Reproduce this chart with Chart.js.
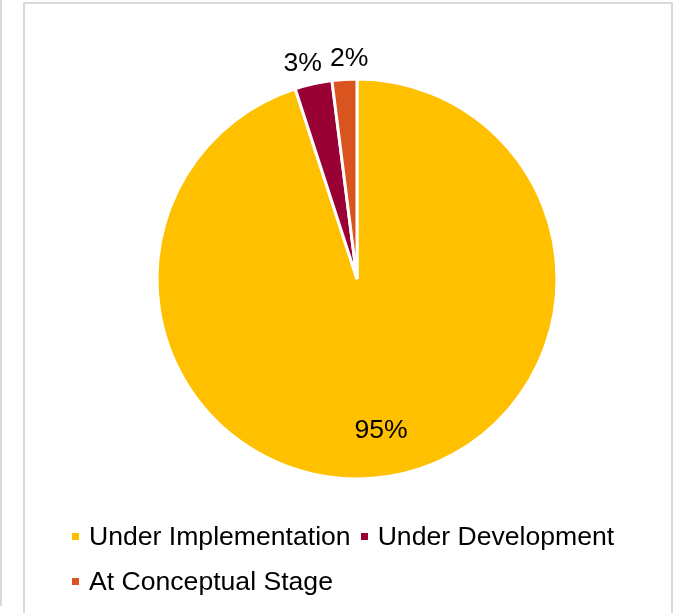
<!DOCTYPE html>
<html>
<head>
<meta charset="utf-8">
<script src="https://cdn.jsdelivr.net/npm/chart.js@4/dist/chart.umd.min.js"></script>
<style>
  html, body { margin: 0; padding: 0; background: #fff; overflow: hidden; }
  body { width: 678px; height: 613px; position: relative; font-family: "Liberation Sans", Arial, sans-serif; }
  #prevBox { position: absolute; left: -60px; top: -10px; width: 60px; height: 614px;
             border-right: 2px solid #d9d9d9; border-bottom: 2px solid #d9d9d9; }
  #frame { position: absolute; left: 23px; top: 2px; width: 646px; height: 700px;
           border: 2px solid #d9d9d9; }
  #wrap { position: absolute; left: 0; top: 0; width: 678px; height: 613px; }
  #legend { position: absolute; left: 72px; top: 514px; width: 580px;
            display: flex; flex-wrap: wrap; font-size: 26.6px; color: #000; }
  #legend .item { display: flex; align-items: center; height: 45px; margin-right: 10px; }
  #legend .box { width: 7px; height: 7px; margin-right: 10px; }
</style>
</head>
<body>
<div id="prevBox"></div>
<div id="frame"></div>
<div id="wrap"><canvas id="pieChart"></canvas></div>
<div id="legend"></div>
<script>
// data
const categories = ['Under Implementation', 'Under Development', 'At Conceptual Stage'];
const shares = [95, 3, 2];
const colors = ['#FFC000', '#990033', '#D9541E'];

// percentage labels on the slices
const sliceLabels = {
  id: 'sliceLabels',
  afterDatasetsDraw(chart) {
    const ctx = chart.ctx;
    const meta = chart.getDatasetMeta(0);
    const data = chart.data.datasets[0].data;
    const total = data.reduce((a, b) => a + b, 0);
    ctx.save();
    ctx.font = '26.6px "Liberation Sans", Arial, sans-serif';
    ctx.fillStyle = '#000';
    ctx.textAlign = 'center';
    ctx.textBaseline = 'middle';
    const outside = [];
    const pos = meta.data.map((arc, i) => {
      const p = arc.getProps(['x', 'y', 'startAngle', 'endAngle', 'outerRadius'], true);
      const mid = (p.startAngle + p.endAngle) / 2;
      const pct = data[i] / total * 100;
      const dist = pct >= 10 ? p.outerRadius * 0.77 : p.outerRadius + 21;
      const t = Math.round(pct) + '%';
      const lab = { t, x: p.x + Math.cos(mid) * dist, y: p.y + Math.sin(mid) * dist, w: ctx.measureText(t).width };
      if (pct < 10) outside.push(lab);
      return lab;
    });
    // push overlapping outside labels apart
    outside.sort((a, b) => a.x - b.x);
    for (let k = 1; k < outside.length; k++) {
      const a = outside[k - 1], b = outside[k];
      const need = (a.w + b.w) / 2 + 8 - (b.x - a.x);
      if (need > 0) { a.x -= need / 2; b.x += need / 2; }
    }
    pos.forEach(l => ctx.fillText(l.t, l.x, l.y));
    ctx.restore();
  }
};

const pieCtx = document.getElementById('pieChart');
new Chart(pieCtx, {
  type: 'pie',
  data: {
    labels: categories,
    datasets: [{
      data: shares,
      backgroundColor: colors,
      borderColor: '#ffffff',
      borderWidth: 3,
      radius: 200
    }]
  },
  options: {
    responsive: true,
    maintainAspectRatio: false,
    animation: false,
    layout: { padding: { left: 36, right: 0, top: 0, bottom: 55 } },
    plugins: {
      legend: { display: false },
      tooltip: { enabled: false }
    }
  },
  plugins: [sliceLabels]
});

// legend built from the same arrays
const legend = document.getElementById('legend');
categories.forEach((c, i) => {
  const item = document.createElement('div');
  item.className = 'item';
  const box = document.createElement('span');
  box.className = 'box';
  box.style.background = colors[i];
  const txt = document.createElement('span');
  txt.textContent = c;
  item.appendChild(box);
  item.appendChild(txt);
  legend.appendChild(item);
});
</script>
</body>
</html>
